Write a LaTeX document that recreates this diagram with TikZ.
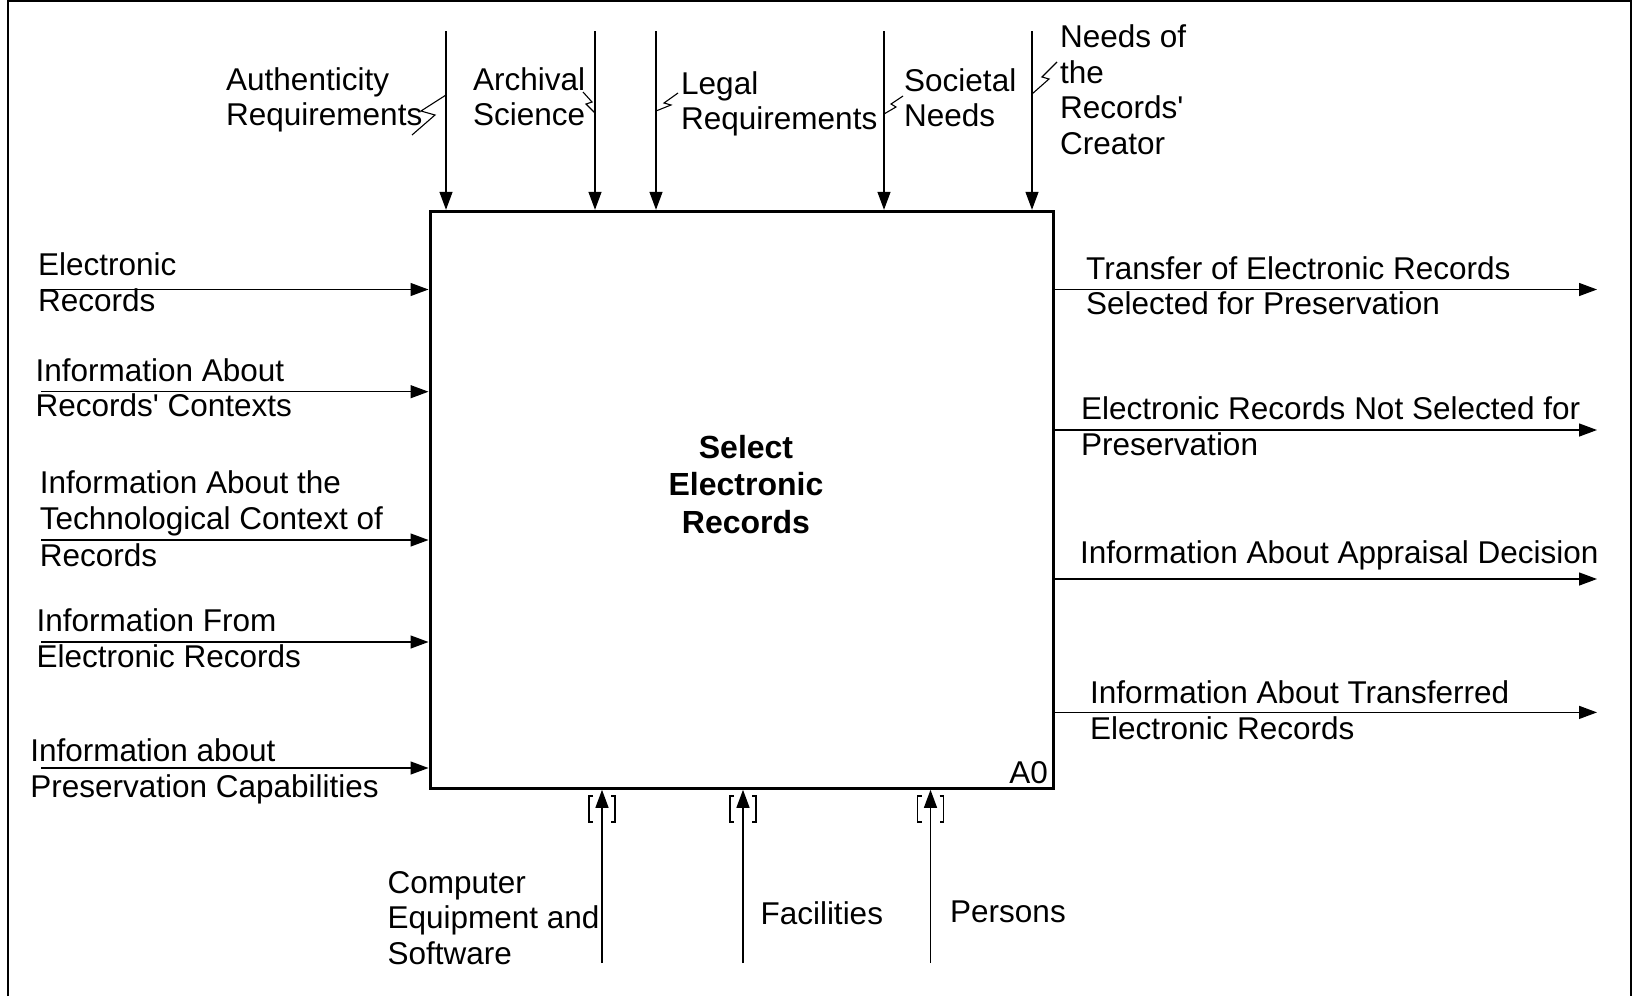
\documentclass[tikz,border=0pt]{standalone}
\usepackage{fontspec}
\setmainfont{Liberation Sans}
\usetikzlibrary{arrows.meta,calc}

\tikzset{
  lbl/.style={inner sep=0pt,align=left,anchor=base west,font=\fontsize{31.5}{35.5}\selectfont},
  flow/.style={line width=1.3pt,-{Triangle[length=18pt,width=13pt]}},
  squig/.style={line width=1.1pt},
  tunnel/.style={line width=1.6pt},
  actbox/.style={draw,line width=3pt,minimum width=623pt,minimum height=577pt,inner sep=0pt}
}

\begin{document}
\begin{tikzpicture}[x=1pt,y=-1pt]
    \useasboundingbox (0,0) rectangle (1633,996);
    %% Frame
    \draw[line width=2pt] (8,996) -- (8,1) -- (1631,1) -- (1631,996);
    %% Activity
    \node[actbox] (box) at (741.5,499.8) {};
    \node[inner sep=0pt,align=center,anchor=base,font=\fontsize{32}{37.5}\selectfont\bfseries] (title) at (746,533) {Select\\Electronic\\Records};
    \node[lbl,anchor=base east] (num) at (1048,783) {A0};
    %% Controls
    \coordinate (c1) at (446,31);
    \coordinate (c2) at (595,31);
    \coordinate (c3) at (656,31);
    \coordinate (c4) at (884,31);
    \coordinate (c5) at (1032,31);
    \draw[flow] (c1) -- (c1 |- box.north);
    \draw[flow] (c2) -- (c2 |- box.north);
    \draw[flow] (c3) -- (c3 |- box.north);
    \draw[flow] (c4) -- (c4 |- box.north);
    \draw[flow] (c5) -- (c5 |- box.north);
    \node[lbl] (authreq) at (226,125.5) {Authenticity\\Requirements};
    \node[lbl] (archsci) at (473,125.5) {Archival\\Science};
    \node[lbl] (legreq) at (681,129.9) {Legal\\Requirements};
    \node[lbl] (socneed) at (904,126.7) {Societal\\Needs};
    \node[lbl] (creator) at (1060,154) {Needs of\\the\\Records\textquotesingle\\Creator};
    \draw[squig] (446,95) -- (421,111) -- (435,115) -- (412,135);
    \draw[squig] (583,92) -- (592,102) -- (586,104) -- (595,113);
    \draw[squig] (678,93) -- (664,103) -- (671,105) -- (656,111);
    \draw[squig] (903,96) -- (891,104) -- (896,107) -- (884,114);
    \draw[squig] (1032,94) -- (1049,79) -- (1042,77) -- (1057,62);
    %% Inputs
    \coordinate (i1) at (41,289.5);
    \coordinate (i2) at (41,391.7);
    \coordinate (i3) at (41,540);
    \coordinate (i4) at (41,642);
    \coordinate (i5) at (41,768);
    \draw[flow] (i1) -- (i1 -| box.west);
    \draw[flow] (i2) -- (i2 -| box.west);
    \draw[flow] (i3) -- (i3 -| box.west);
    \draw[flow] (i4) -- (i4 -| box.west);
    \draw[flow] (i5) -- (i5 -| box.west);
    \node[lbl] (erec) at (38,311.4) {Electronic\\Records};
    \node[lbl] (ctx) at (35.4,416.8) {Information About\\Records\textquotesingle{} Contexts};
    \node[lbl] (tech) at (39.6,566.8) {Information About the\\Technological Context of\\[2pt]Records};
    \node[lbl] (from) at (36.5,667) {Information From\\Electronic Records};
    \node[lbl] (pres) at (30.2,797) {Information about\\Preservation Capabilities};
    %% Outputs
    \coordinate (o1) at (1597,289.5);
    \coordinate (o2) at (1597,430);
    \coordinate (o3) at (1597,579);
    \coordinate (o4) at (1597,712.4);
    \draw[flow] (o1 -| box.east) -- (o1);
    \draw[flow] (o2 -| box.east) -- (o2);
    \draw[flow] (o3 -| box.east) -- (o3);
    \draw[flow] (o4 -| box.east) -- (o4);
    \node[lbl] (trans) at (1086,314.5) {Transfer of Electronic Records\\Selected for Preservation};
    \node[lbl] (notsel) at (1081,455) {Electronic Records Not Selected for\\Preservation};
    \node[lbl] (decis) at (1080,563) {Information About Appraisal Decision};
    \node[lbl] (trinfo) at (1090,739) {Information About Transferred\\Electronic Records};
    %% Mechanisms
    \coordinate (m1) at (602,963);
    \coordinate (m2) at (743,963);
    \coordinate (m3) at (930.5,963);
    \foreach \m in {m1,m2,m3} {
      \coordinate (\m b) at (\m |- box.south);
      \draw[flow] (\m) -- (\m b);
      \draw[tunnel] ($(\m b)+(-9,6)$) -- ++(-4,0) -- ++(0,26) -- ++(4,0);
      \draw[tunnel] ($(\m b)+(9,6)$) -- ++(4,0) -- ++(0,26) -- ++(-4,0);
    }
    \node[lbl] (equip) at (387.4,964) {Computer\\Equipment and\\Software};
    \node[lbl] (facil) at (760.3,924.4) {Facilities};
    \node[lbl] (pers) at (950,922.3) {Persons};
\end{tikzpicture}
\end{document}
